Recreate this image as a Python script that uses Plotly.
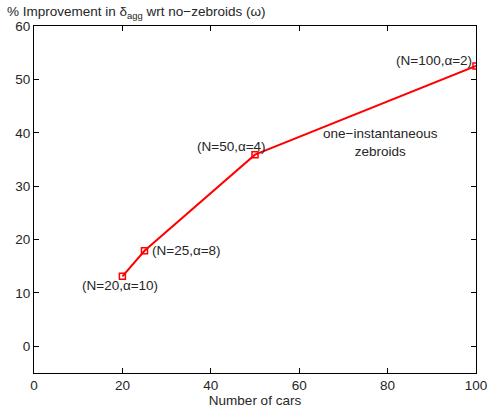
import plotly.graph_objects as go

# Data: improvement vs number of cars
cars = [20, 25, 50, 100]
improvement = [13.1, 17.9, 35.9, 52.5]
point_labels = ["(N=20,\u03b1=10)", "(N=25,\u03b1=8)", "(N=50,\u03b1=4)", "(N=100,\u03b1=2)"]

x_ticks = [0, 20, 40, 60, 80, 100]
y_ticks = [0, 10, 20, 30, 40, 50, 60]

FONT = "Liberation Sans, Arial, Helvetica, sans-serif"
TXT = "#262626"
FS = 13.5

fig = go.Figure()
fig.add_trace(go.Scatter(
    x=cars, y=improvement, mode="lines+markers",
    line=dict(color="#ff0000", width=2),
    marker=dict(symbol="square-open", size=6, color="#ff0000", line=dict(width=1.5)),
    showlegend=False, hoverinfo="skip",
))

# Point annotations
offsets = [(-2, -9), (5, 0), (13, 8), (-2, 6)]
anchors = [("center", "middle"), ("left", "middle"), ("right", "middle"), ("right", "middle")]
for xv, yv, txt, (dx, dy), (xa, ya) in zip(cars, improvement, point_labels, offsets, anchors):
    fig.add_annotation(x=xv, y=yv, text=txt, showarrow=False,
                       xanchor=xa, yanchor=ya, xshift=dx, yshift=dy,
                       font=dict(family=FONT, size=FS, color=TXT))

fig.add_annotation(x=78.5, y=38.1, text="one\u2212instantaneous<br>zebroids", showarrow=False,
                   xanchor="center", yanchor="middle",
                   font=dict(family=FONT, size=FS, color=TXT))

fig.add_annotation(xref="paper", yref="paper", x=-0.066, y=1.0,
                   text="% Improvement in \u03b4<sub>agg</sub> wrt no\u2212zebroids (\u03c9)",
                   showarrow=False, xanchor="left", yanchor="bottom", yshift=3,
                   font=dict(family=FONT, size=FS, color=TXT))

axis_common = dict(showgrid=False, zeroline=False, showline=True, linecolor="black",
                   linewidth=1, mirror="ticks", ticks="inside", ticklen=5,
                   tickcolor="black", tickfont=dict(family=FONT, size=FS, color=TXT))

fig.update_xaxes(range=[0, 100], tickvals=x_ticks,
                 title=dict(text="Number of cars", standoff=0,
                            font=dict(family=FONT, size=FS, color=TXT)),
                 **axis_common)
fig.update_yaxes(range=[-5, 60], tickvals=y_ticks, **axis_common)

fig.update_layout(
    width=501, height=414,
    margin=dict(l=34, r=25, t=26, b=41),
    plot_bgcolor="white", paper_bgcolor="white",
)

fig.write_html("out.html")
